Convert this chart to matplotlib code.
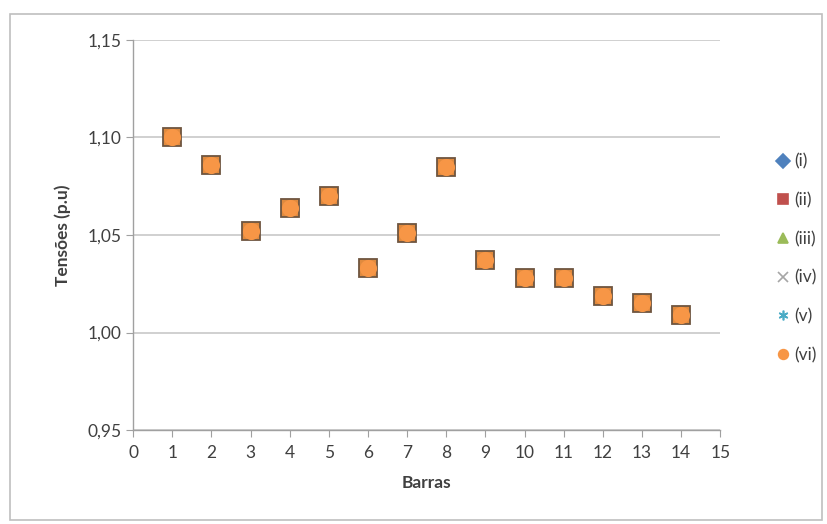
import matplotlib
matplotlib.use("Agg")
import matplotlib.pyplot as plt
from matplotlib.patches import Rectangle

barras = [1, 2, 3, 4, 5, 6, 7, 8, 9, 10, 11, 12, 13, 14]
tensoes = [1.100, 1.086, 1.052, 1.064, 1.070, 1.033, 1.051, 1.085,
           1.037, 1.028, 1.028, 1.019, 1.015, 1.009]
series_labels = ["(i)", "(ii)", "(iii)", "(iv)", "(v)", "(vi)"]
x_ticks = list(range(0, 16))
y_ticks = [0.95, 1.00, 1.05, 1.10, 1.15]
y_tick_labels = ["0,95", "1,00", "1,05", "1,10", "1,15"]

plt.rcParams['font.family'] = ['Lato', 'DejaVu Sans']

fig = plt.figure(figsize=(8.27, 5.24), dpi=100)
ax = fig.add_axes([0.161, 0.179, 0.710, 0.745])

styles = [
    dict(marker='D', color='#4F81BD', ms=7, mec='#4F81BD'),
    dict(marker='s', color='#C0504D', ms=13, mec='#6e5540', mfc='#E08A3E'),
    dict(marker='^', color='#9BBB59', ms=7, mec='#9BBB59'),
    dict(marker='x', color='#A6A6A6', ms=7, mec='#A6A6A6'),
    dict(marker=(6, 2, 0), color='#4BACC6', ms=7, mec='#4BACC6'),
    dict(marker='o', color='#F79646', ms=11, mec='#F79646'),
]
legend_handles = []
for lab, st in zip(series_labels, styles):
    ax.plot(barras, tensoes, linestyle='none', marker=st['marker'],
            markersize=st['ms'], markerfacecolor=st.get('mfc', st['color']),
            markeredgecolor=st['mec'], markeredgewidth=1.3, zorder=3)
    h, = ax.plot([], [], linestyle='none', marker=st['marker'],
                 markersize=7, markerfacecolor=st['color'],
                 markeredgecolor=st['color'], markeredgewidth=1.2, label=lab)
    legend_handles.append(h)

ax.set_xlim(0, 15)
ax.set_ylim(0.95, 1.15)
ax.set_xticks(x_ticks)
ax.set_yticks(y_ticks)
ax.set_yticklabels(y_tick_labels)
ax.yaxis.grid(True, color='#C8C8C8', linewidth=1.2)
ax.set_axisbelow(True)
for s in ['top', 'right']:
    ax.spines[s].set_visible(False)
for s in ['left', 'bottom']:
    ax.spines[s].set_color('#A0A0A0')
    ax.spines[s].set_linewidth(1.0)
ax.tick_params(axis='both', colors='#A0A0A0', labelcolor='#404040',
               labelsize=12.5, length=5, direction='out')
ax.tick_params(axis='x', pad=6)
ax.set_xlabel("Barras", fontsize=12.5, fontweight='bold', color='#404040', labelpad=10)
ax.set_ylabel("Tensões (p.u)", fontsize=12.5, fontweight='bold', color='#404040', labelpad=12)

fig.legend(handles=legend_handles, loc='center left', bbox_to_anchor=(0.918, 0.507),
           frameon=False, fontsize=12.5, labelspacing=1.3, handletextpad=0.1,
           handlelength=1.0, labelcolor='#404040')

fig.patches.append(Rectangle((10/827, 1 - 520/524), 812/827, 506/524,
                             transform=fig.transFigure, fill=False,
                             edgecolor='#BFBFBF', linewidth=1.2))

fig.savefig("out.png", dpi=100)
